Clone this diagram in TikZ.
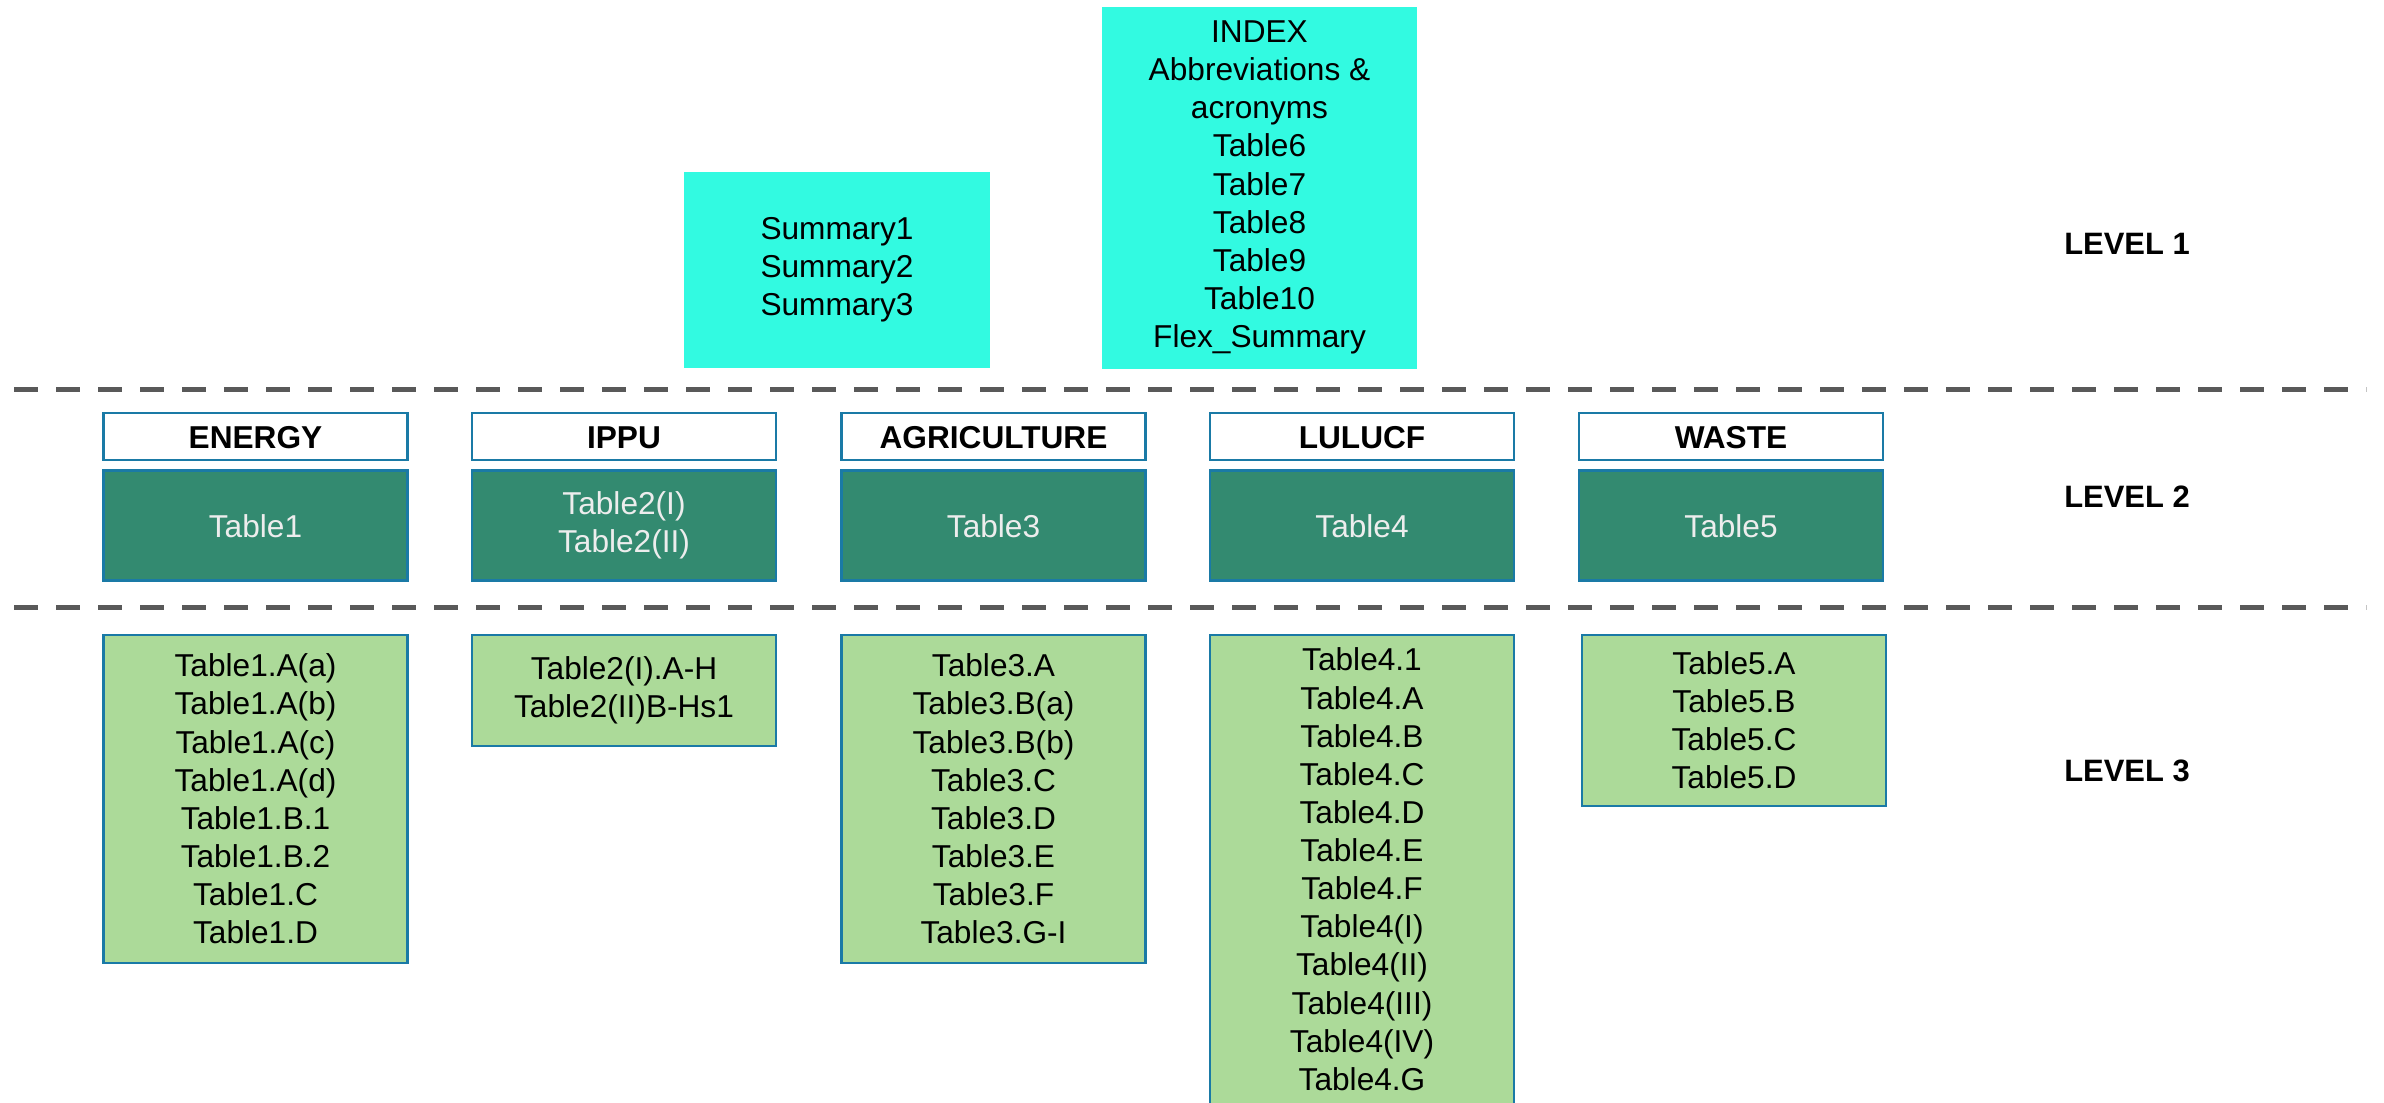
\documentclass[tikz,border=0pt]{standalone}
\usepackage{fontspec}
\setmainfont{Liberation Sans}
\usepackage{xcolor}
\usepackage{tikz}
\usetikzlibrary{positioning}
\definecolor{toska}{RGB}{50,250,225}
\definecolor{hijautua}{RGB}{51,138,112}
\definecolor{hijaumuda}{RGB}{172,218,153}
\definecolor{biru}{RGB}{26,122,166}
\definecolor{abu}{RGB}{89,89,89}
\newcommand{\teks}{\fontsize{9}{10.85}\selectfont}
\tikzset{
  ringkas/.style={rectangle, fill=toska, align=center, font=\teks},
  judul/.style={rectangle, draw=biru, line width=0.7pt, fill=white,
    minimum width=3.04cm, minimum height=0.47cm, text height=6.5pt, text depth=0pt,
    font=\teks\bfseries},
  tabel/.style={rectangle, draw=biru, line width=0.7pt, fill=hijautua, text=white!93!black,
    minimum width=3.04cm, minimum height=1.10cm, align=center, font=\teks},
  rinci/.style={rectangle, draw=biru, line width=0.6pt, fill=hijaumuda,
    minimum width=3.04cm, align=center, font=\teks},
  garis/.style={abu, line width=0.05cm, dash pattern=on 0.24cm off 0.18cm},
  tingkat/.style={font=\fontsize{8.8}{10}\selectfont\bfseries}
}

\begin{document}
\begin{tikzpicture}
  \useasboundingbox (0,0) rectangle (23.84,-11.02);
  \clip (0,0) rectangle (23.84,-11.02);

  % level 1
  \node[ringkas, minimum width=3.06cm, minimum height=1.96cm] (s1) at (8.37,-2.70)
    {Summary1\\Summary2\\Summary3};
  \node[ringkas, minimum width=3.15cm, minimum height=3.62cm] (idx) at (12.595,-1.875)
    {INDEX\\Abbreviations \&\\acronyms\\Table6\\Table7\\Table8\\Table9\\Table10\\Flex\_Summary};

  \draw[garis] (0.14,-3.89) -- (23.66,-3.89);
  \draw[garis] (0.14,-6.07) -- (23.66,-6.07);

  % level 2
  \node[judul, anchor=north] (h1) at (2.555,-4.12) {ENERGY};
  \node[judul, anchor=north] (h2) at (6.24,-4.12) {IPPU};
  \node[judul, anchor=north] (h3) at (9.935,-4.12) {AGRICULTURE};
  \node[judul, anchor=north] (h4) at (13.62,-4.12) {LULUCF};
  \node[judul, anchor=north] (h5) at (17.31,-4.12) {WASTE};

  \node[tabel, below=0.08cm of h1] (t1) {Table1};
  \node[tabel, below=0.08cm of h2] (t2) {Table2(I)\\Table2(II)};
  \node[tabel, below=0.08cm of h3] (t3) {Table3};
  \node[tabel, below=0.08cm of h4] (t4) {Table4};
  \node[tabel, below=0.08cm of h5] (t5) {Table5};

  % level 3
  \node[rinci, minimum height=3.28cm, below=0.52cm of t1] (d1)
    {Table1.A(a)\\Table1.A(b)\\Table1.A(c)\\Table1.A(d)\\Table1.B.1\\Table1.B.2\\Table1.C\\Table1.D};
  \node[rinci, minimum height=1.11cm, below=0.52cm of t2] (d2)
    {Table2(I).A-H\\Table2(II)B-Hs1};
  \node[rinci, minimum height=3.28cm, below=0.52cm of t3] (d3)
    {Table3.A\\Table3.B(a)\\Table3.B(b)\\Table3.C\\Table3.D\\Table3.E\\Table3.F\\Table3.G-I};
  \node[rinci, inner ysep=0.13cm, text depth=0.4cm, below=0.52cm of t4] (d4)
    {Table4.1\\Table4.A\\Table4.B\\Table4.C\\Table4.D\\Table4.E\\Table4.F\\Table4(I)\\Table4(II)\\Table4(III)\\Table4(IV)\\Table4.G};
  \node[rinci, minimum height=1.71cm, below=0.52cm of t5, xshift=0.03cm] (d5)
    {Table5.A\\Table5.B\\Table5.C\\Table5.D};

  \node[tingkat] (lv1) at (21.27,-2.44) {LEVEL 1};
  \node[tingkat] (lv2) at (21.27,-4.97) {LEVEL 2};
  \node[tingkat] (lv3) at (21.27,-7.71) {LEVEL 3};
\end{tikzpicture}
\end{document}
